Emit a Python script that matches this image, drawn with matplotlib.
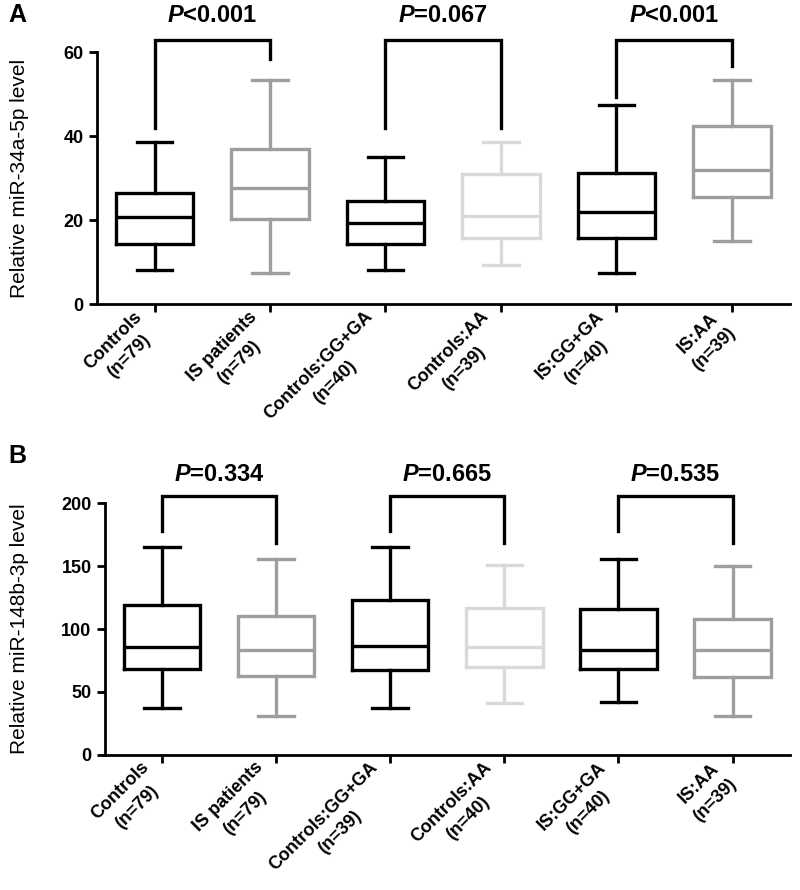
import matplotlib
matplotlib.use('Agg')
import matplotlib.pyplot as plt

plt.rcParams['font.family'] = ['Liberation Sans', 'DejaVu Sans']
plt.rcParams['mathtext.fontset'] = 'custom'
plt.rcParams['mathtext.it'] = 'Liberation Sans:style=italic:weight=bold'
plt.rcParams['mathtext.rm'] = 'Liberation Sans:weight=bold'

# Panel A: miR-34a-5p
labels_a = ['Controls\n(n=79)', 'IS patients\n(n=79)', 'Controls:GG+GA\n(n=40)',
            'Controls:AA\n(n=39)', 'IS:GG+GA\n(n=40)', 'IS:AA\n(n=39)']
whislo_a = [8.1, 7.5, 8.3, 9.3, 7.5, 15.0]
q1_a = [14.3, 20.4, 14.3, 15.7, 15.7, 25.6]
med_a = [20.8, 27.6, 19.3, 21.0, 22.0, 32.0]
q3_a = [26.5, 37.1, 24.7, 31.0, 31.2, 42.5]
whishi_a = [38.6, 53.3, 35.1, 38.6, 47.4, 53.3]
pvals_a = ['<0.001', '=0.067', '<0.001']
br_top_a = [63, 63, 63]
br_left_a = [42, 42, 49.3]
br_right_a = [58.5, 42, 56.7]

# Panel B: miR-148b-3p
labels_b = ['Controls\n(n=79)', 'IS patients\n(n=79)', 'Controls:GG+GA\n(n=39)',
            'Controls:AA\n(n=40)', 'IS:GG+GA\n(n=40)', 'IS:AA\n(n=39)']
whislo_b = [37, 31, 37, 41, 42, 31]
q1_b = [68, 63, 67.5, 70, 68, 62]
med_b = [86, 83, 86.5, 86, 83, 83]
q3_b = [119, 110, 123, 117, 116, 108]
whishi_b = [165, 155.6, 165, 151, 155.6, 150]
pvals_b = ['=0.334', '=0.665', '=0.535']
br_top_b = [205.5, 205.5, 205.5]
br_left_b = [178, 178, 178]
br_right_b = [168, 168, 168]

colors = ['#000000', '#9e9e9e', '#000000', '#d9d9d9', '#000000', '#9e9e9e']


def draw_panel(ax, labels, lo, q1, med, q3, hi, pvals, tops, lefts, rights,
               ylim, yticks, ylabel, ptext_y):
    stats = []
    for i in range(len(labels)):
        stats.append(dict(whislo=lo[i], q1=q1[i], med=med[i], q3=q3[i],
                          whishi=hi[i], fliers=[]))
    pos = list(range(len(labels)))
    art = ax.bxp(stats, positions=pos, widths=0.67, capwidths=0.31,
                 showfliers=False, patch_artist=False)
    for i, c in enumerate(colors):
        for a in [art['boxes'][i], art['medians'][i]]:
            a.set_color(c)
            a.set_linewidth(2.4)
        for a in art['whiskers'][2 * i:2 * i + 2] + art['caps'][2 * i:2 * i + 2]:
            a.set_color(c)
            a.set_linewidth(2.4)
        art['boxes'][i].set_solid_joinstyle('miter')

    # significance brackets and P values
    for k in range(len(pvals)):
        x0, x1 = 2 * k, 2 * k + 1
        ax.plot([x0, x0, x1, x1], [lefts[k], tops[k], tops[k], rights[k]],
                color='black', lw=2.4, clip_on=False, solid_joinstyle='miter')
        ax.text((x0 + x1) / 2, ptext_y, '$P$' + pvals[k], ha='center',
                va='center', fontsize=17, fontweight='bold', clip_on=False)

    ax.set_xlim(-0.5, 5.5)
    ax.set_ylim(*ylim)
    ax.set_yticks(yticks)
    ax.set_xticks(pos)
    ax.set_xticklabels(labels, rotation=45, ha='right', va='baseline',
                       rotation_mode='anchor', multialignment='center',
                       fontsize=13, fontweight='bold', linespacing=1.45)
    for t in ax.get_yticklabels():
        t.set_fontweight('bold')
        t.set_fontsize(13)
    ax.set_ylabel(ylabel, fontsize=15)
    ax.spines['top'].set_visible(False)
    ax.spines['right'].set_visible(False)
    for s in ['left', 'bottom']:
        ax.spines[s].set_linewidth(2)
    ax.tick_params(width=2, length=6)
    ax.tick_params(axis='x', pad=12)


fig = plt.figure(figsize=(8, 8.9), dpi=100)
ax_a = fig.add_axes([0.121, 0.658, 0.866, 0.2832])
ax_b = fig.add_axes([0.131, 0.1517, 0.856, 0.2831])

draw_panel(ax_a, labels_a, whislo_a, q1_a, med_a, q3_a, whishi_a, pvals_a,
           br_top_a, br_left_a, br_right_a, (0, 60), [0, 20, 40, 60],
           'Relative miR-34a-5p level', 68.8)
draw_panel(ax_b, labels_b, whislo_b, q1_b, med_b, q3_b, whishi_b, pvals_b,
           br_top_b, br_left_b, br_right_b, (0, 200), [0, 50, 100, 150, 200],
           'Relative miR-148b-3p level', 223)

ax_a.yaxis.set_label_coords(-0.098, 0.5)
ax_b.yaxis.set_label_coords(-0.111, 0.5)

fig.text(0.022, 0.983, 'A', fontsize=18, fontweight='bold', ha='center', va='center')
fig.text(0.022, 0.488, 'B', fontsize=18, fontweight='bold', ha='center', va='center')

fig.savefig('out.png', dpi=100)
